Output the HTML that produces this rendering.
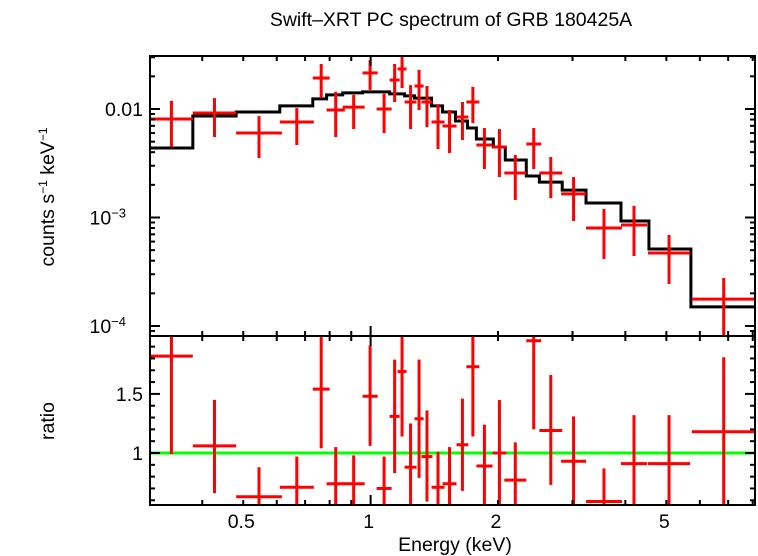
<!DOCTYPE html>
<html><head><meta charset="utf-8"><style>
html,body{margin:0;padding:0;background:#fff}
svg{display:block}
text{font-family:"Liberation Sans",sans-serif;fill:#000}
</style></head><body>
<svg id="chart" width="758" height="556" viewBox="0 0 758 556" xmlns="http://www.w3.org/2000/svg">
<text x="451" y="26" font-size="19.5" text-anchor="middle">Swift–XRT PC spectrum of GRB 180425A</text>
<text transform="translate(54,197) rotate(-90)" font-size="19.5" text-anchor="middle">counts s<tspan font-size="12" dy="-7">−1</tspan><tspan dy="7"> keV</tspan><tspan font-size="12" dy="-7">−1</tspan></text>
<text transform="translate(54,421) rotate(-90)" font-size="19.5" text-anchor="middle">ratio</text>
<text x="455" y="551" font-size="19.5" text-anchor="middle">Energy (keV)</text>
<g id="g"></g>
</svg>
<script>
// model step bins
const modelEdges=[0.301,0.380,0.481,0.610,0.730,0.787,0.859,0.957,1.05,1.109,1.203,1.270,1.393,1.479,1.587,1.694,1.778,1.950,2.081,2.333,2.505,2.837,3.229,3.906,4.548,5.715,8.128];
const modelValues=[0.00437,0.00861,0.00938,0.0107,0.0124,0.0135,0.0141,0.0144,0.0144,0.0138,0.0132,0.0126,0.0107,0.00938,0.00775,0.00668,0.00529,0.00447,0.00339,0.00241,0.00212,0.00179,0.00136,0.000929,0.000513,0.000150];
// data points
const eLo=[0.301,0.380,0.481,0.610,0.730,0.787,0.859,0.957,1.033,1.109,1.158,1.203,1.270,1.319,1.393,1.479,1.596,1.684,1.778,1.941,2.07,2.333,2.505,2.82,3.229,3.906,4.525,5.742];
const eHi=[0.380,0.481,0.617,0.734,0.800,0.869,0.968,1.039,1.121,1.171,1.216,1.284,1.334,1.400,1.495,1.596,1.702,1.807,1.941,2.093,2.333,2.530,2.837,3.229,3.926,4.500,5.689,8.128];
const rate=[0.00809,0.00919,0.00601,0.00759,0.0193,0.00979,0.0104,0.0215,0.0100,0.0185,0.0234,0.0116,0.0163,0.0116,0.00759,0.00697,0.00844,0.0116,0.00466,0.00447,0.00257,0.00476,0.00257,0.00165,0.000800,0.000853,0.000471,0.000177];
const rateHi=[0.0119,0.0126,0.00861,0.0102,0.0260,0.0144,0.0135,0.0283,0.0138,0.0260,0.0315,0.0166,0.0229,0.0163,0.0111,0.00979,0.0116,0.0160,0.00668,0.00654,0.00377,0.00668,0.00361,0.00236,0.00120,0.00128,0.000690,0.000277];
const rateLo=[0.00447,0.00552,0.00353,0.00466,0.0126,0.00552,0.00654,0.0150,0.00601,0.0116,0.0156,0.00654,0.00979,0.00682,0.00428,0.00393,0.00518,0.00743,0.00280,0.00236,0.00145,0.00280,0.00151,0.000929,0.000415,0.000442,0.000244,0.00007];
const ratio=[1.82,1.06,0.63,0.71,1.54,0.74,0.74,1.48,0.70,1.31,1.69,0.88,1.29,0.97,0.71,0.74,1.07,1.73,0.89,1.0,0.77,1.95,1.19,0.93,0.59,0.91,0.91,1.18];
const ratioHi=[2.2,1.45,0.88,0.97,2.2,1.05,0.98,1.91,0.97,1.79,2.2,1.25,1.79,1.36,1.01,1.05,1.46,2.2,1.24,1.45,1.09,2.2,1.66,1.31,0.87,1.32,1.32,1.81];
const ratioLo=[0.99,0.66,0.45,0.45,1.04,0.45,0.45,1.06,0.45,0.83,1.14,0.45,0.79,0.59,0.45,0.45,0.68,1.14,0.45,0.45,0.45,1.2,0.73,0.45,0.45,0.45,0.45,0.45];
const xTickLabels=["0.5","1","2","5"];
const xTickValues=[0.5,1,2,5];
const ratioTickValues=[1,1.5];
const ratioTickLabels=["1","1.5"];

const X0=150,X1=755,TY0=56,TY1=336,BY0=336,BY1=505;
const xMin=0.301,xMax=8.1,yMin=0.0000809,yMax=0.0308,rMin=0.56,rMax=1.99;
const NS="http://www.w3.org/2000/svg";
const g=document.getElementById('g');
const xs=e=>X0+(Math.log10(e)-Math.log10(xMin))/(Math.log10(xMax)-Math.log10(xMin))*(X1-X0);
const ys=v=>TY1-(Math.log10(v)-Math.log10(yMin))/(Math.log10(yMax)-Math.log10(yMin))*(TY1-TY0);
const rs=v=>BY1-(v-rMin)/(rMax-rMin)*(BY1-BY0);
const cT=(v)=>Math.max(TY0,Math.min(TY1,v));
const cB=(v)=>Math.max(BY0,Math.min(BY1,v));
function el(t,a,p){const e=document.createElementNS(NS,t);for(const k in a)e.setAttribute(k,a[k]);(p||g).appendChild(e);return e;}
function line(x1,y1,x2,y2,c,w){return el('line',{x1,y1,x2,y2,stroke:c,'stroke-width':w});}

// model
let d='';
for(let i=0;i<modelValues.length;i++){
  const y=ys(modelValues[i]);
  d+=(i==0?'M':'L')+xs(modelEdges[i])+','+y+'L'+xs(modelEdges[i+1])+','+y;
}
const mp=el('path',{d,fill:'none',stroke:'#000','stroke-width':3});



// top data
for(let i=0;i<rate.length;i++){
  const gg=el('g',{});
  
  
  const xc=xs(Math.sqrt(eLo[i]*eHi[i]));
  gg.appendChild(line(xs(eLo[i]),ys(rate[i]),xs(eHi[i]),ys(rate[i]),'#f00',3));
  gg.appendChild(line(xc,cT(ys(rateHi[i])),xc,cT(ys(rateLo[i])),'#f00',3));
}
// ratio
const gl=line(X0,rs(1),X1,rs(1),'#0f0',3);


for(let i=0;i<ratio.length;i++){
  const gg=el('g',{});
  
  
  const xc=xs(Math.sqrt(eLo[i]*eHi[i]));
  if(ratio[i]>=rMin&&ratio[i]<=rMax) gg.appendChild(line(xs(eLo[i]),rs(ratio[i]),xs(eHi[i]),rs(ratio[i]),'#f00',3));
  gg.appendChild(line(xc,cB(rs(ratioHi[i])),xc,cB(rs(ratioLo[i])),'#f00',3));
}

// frames
const f1=el('rect',{x:X0,y:TY0,width:X1-X0,height:TY1-TY0,fill:'none',stroke:'#000','stroke-width':2});


const f2=el('rect',{x:X0,y:BY0,width:X1-X0,height:BY1-BY0,fill:'none',stroke:'#000','stroke-width':2});



// x ticks
const ticks=el('g',{});


for(let k=0.3;k<8.05;k+=(k<0.999?0.1:1)){
  const v=Math.round(k*10)/10; if(v<xMin||v>xMax) continue;
  const x=xs(v); const major=(v==1);
  const L=major?10:5;
  [[TY0,1],[TY1,-1],[BY0,1],[BY1,-1]].forEach(([y,s])=>ticks.appendChild(line(x,y,x,y+s*L,'#000',2)));
}
xTickValues.forEach((v,i)=>{
  const t=el('text',{x:xs(v)-2,y:528,'font-size':19.5,'text-anchor':'middle'});
  t.textContent=xTickLabels[i];
  
  
});
// y log ticks
for(let dec=-5;dec<=-1;dec++){
  for(let m=1;m<10;m++){
    const v=m*Math.pow(10,dec); if(v<yMin||v>yMax) continue;
    const y=ys(v),L=m==1?10:5;
    ticks.appendChild(line(X0,y,X0+L,y,'#000',2));
    ticks.appendChild(line(X1,y,X1-L,y,'#000',2));
  }
}
const yl=[[0.01,'0.01',null],[0.001,'10','−3'],[0.0001,'10','−4']];
yl.forEach(([v,b,e])=>{
  const t=el('text',{x:e?126:143,y:ys(v)+7,'font-size':19.5,'text-anchor':'end'});
  t.textContent=b;
  if(e){const s=el('tspan',{'font-size':13,dy:-7},t);s.textContent=e;}
  
  
});
// ratio ticks
for(let r=0.6;r<1.99;r+=0.1){
  const v=Math.round(r*10)/10;const y=rs(v),L=(v==1||v==1.5)?10:5;
  ticks.appendChild(line(X0,y,X0+L,y,'#000',2));
  ticks.appendChild(line(X1,y,X1-L,y,'#000',2));
}
ratioTickValues.forEach((v,i)=>{
  const t=el('text',{x:143,y:rs(v)+7,'font-size':19.5,'text-anchor':'end'});
  t.textContent=ratioTickLabels[i];
  
  
});
</script>
</body></html>
